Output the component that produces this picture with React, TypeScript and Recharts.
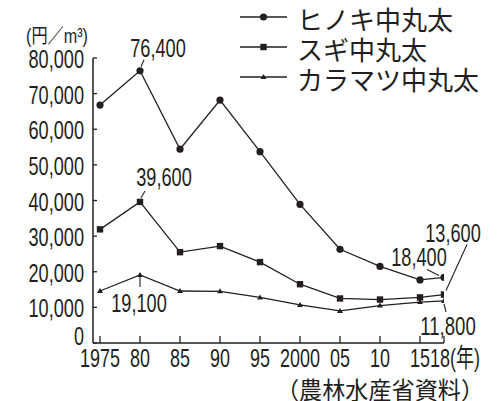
import React from 'react';
import { LineChart, Line, XAxis, YAxis, Legend, LabelList } from 'recharts';

const years = [1975, 1980, 1985, 1990, 1995, 2000, 2005, 2010, 2015, 2018];
const xTickLabels = ['1975', '80', '85', '90', '95', '2000', '05', '10', '15', '18'];
const hinoki = [66800, 76400, 54400, 68200, 53700, 38900, 26300, 21500, 17700, 18400];
const sugi = [31900, 39600, 25500, 27200, 22700, 16500, 12500, 12200, 12800, 13600];
const karamatsu = [14600, 19100, 14600, 14500, 12800, 10700, 9000, 10500, 11500, 11800];
const yTicks = [0, 10000, 20000, 30000, 40000, 50000, 60000, 70000, 80000];
const seriesNames = ['ヒノキ中丸太', 'スギ中丸太', 'カラマツ中丸太'];
const unitLabel = '(円／m³)';
const yearUnit = '(年)';
const sourceLabel = '（農林水産省資料）';

const data = years.map((y, i) => ({ year: y, hinoki: hinoki[i], sugi: sugi[i], karamatsu: karamatsu[i] }));

const INK = '#231f20';
const NUM_FONT = '"Liberation Sans Narrow", "Liberation Sans", Arial, "Noto Sans CJK JP", sans-serif';
const JP_FONT = '"Noto Sans CJK JP", "Noto Sans", sans-serif';

const fmt = (v: number) => v.toLocaleString('en-US');
const numWidth = (s: string) => [...s].reduce((a, c) => a + (c === ',' ? 5.5 : 10), 0);

const NumText = ({ x, y, text, anchor = 'middle' }: any) => (
  <text x={x} y={y} textAnchor={anchor} textLength={numWidth(text)} lengthAdjust="spacingAndGlyphs"
    fontSize={26} fontFamily={NUM_FONT} fill={INK}>{text}</text>
);

const YTick = (props: any) => {
  const { x, y, payload } = props;
  const v = payload.value;
  return (
    <g>
      <line x1={x} x2={x + 4} y1={y} y2={y} stroke={INK} strokeWidth={1.3} />
      <NumText x={x - 9} y={v === 0 ? y + 2 : y + 10} text={fmt(v)} anchor="end" />
    </g>
  );
};

const XTick = (props: any) => {
  const { x, y, payload } = props;
  const idx = years.indexOf(payload.value);
  const label = xTickLabels[idx];
  const last = idx === years.length - 1;
  return (
    <g>
      <line x1={x} x2={x} y1={y - 7} y2={y} stroke={INK} strokeWidth={1.3} />
      {last ? (
        <text x={x - 14} y={y + 24} fontSize={26} fontFamily={NUM_FONT} fill={INK}
          textLength={50} lengthAdjust="spacingAndGlyphs">{label + yearUnit}</text>
      ) : (
        <NumText x={x} y={y + 24} text={label} />
      )}
    </g>
  );
};

const markerFor = (key: string, cx: number, cy: number, k?: any) => {
  if (key === 'hinoki') return <circle key={k} cx={cx} cy={cy} r={3.6} fill={INK} />;
  if (key === 'sugi') return <rect key={k} x={cx - 3.2} y={cy - 3.2} width={6.4} height={6.4} fill={INK} />;
  return <path key={k} d={`M${cx - 3},${cy + 2} L${cx + 3},${cy + 2} L${cx},${cy - 3} Z`} fill={INK} />;
};

const makeDot = (key: string) => (p: any) => markerFor(key, p.cx, p.cy, `${key}-${p.index}`);

// annotation placement relative to the point (style only)
const annot: Record<string, Record<number, { tx: number; ty: number; l: number[] }>> = {
  hinoki: {
    1: { tx: 18, ty: -14, l: [1, -4, 4, -11] },
    9: { tx: -25, ty: -11, l: [-17, -8, -5, -2] },
  },
  sugi: {
    1: { tx: 24, ty: -16, l: [1, -4, 5, -11] },
    9: { tx: 9, ty: -53, l: [2, -4, 23, -50] },
  },
  karamatsu: {
    1: { tx: -1, ty: 37, l: [0, 1, 0, 12] },
    9: { tx: 4, ty: 34, l: [0, 3, 2, 11] },
  },
};

const makeLabel = (key: string) => (p: any) => {
  const a = annot[key][p.index];
  if (!a) return null;
  const x = Number(p.x), y = Number(p.y);
  return (
    <g key={`${key}-lab-${p.index}`}>
      <line x1={x + a.l[0]} y1={y + a.l[1]} x2={x + a.l[2]} y2={y + a.l[3]} stroke={INK} strokeWidth={1.1} />
      <NumText x={x + a.tx} y={y + a.ty} text={fmt(Number(p.value))} />
    </g>
  );
};

const keys = ['hinoki', 'sugi', 'karamatsu'];

const LegendContent = (props: any) => {
  const payload = [...(props.payload || [])].sort(
    (a: any, b: any) => keys.indexOf(String(a.dataKey)) - keys.indexOf(String(b.dataKey))
  );
  return (
    <svg width={497} height={100} style={{ position: 'absolute', left: 0, top: 0, overflow: 'visible' }}>
      {payload.map((item: any, i: number) => {
        const y = 17 + i * 30;
        return (
          <g key={i}>
            <line x1={240} x2={287} y1={y} y2={y} stroke={INK} strokeWidth={1.3} />
            {markerFor(String(item.dataKey), 263.5, y)}
            <text x={297} y={y + 1} dominantBaseline="central" fontSize={26} fontFamily={JP_FONT} fill={INK}>{item.value}</text>
          </g>
        );
      })}
    </svg>
  );
};

export default function App() {
  return (
    <div style={{ position: 'absolute', left: 0, top: 0, width: 497, height: 401, background: '#fff' }}>
      <LineChart width={497} height={401} data={data} margin={{ top: 58, right: 53, bottom: 28, left: 33 }}>
        <XAxis dataKey="year" type="number" domain={[1974.125, 2018]} ticks={years} interval={0}
          allowDataOverflow height={30} tickSize={0} tickMargin={0} tick={<XTick />}
          axisLine={{ stroke: INK, strokeWidth: 1.5 }} tickLine={false} />
        <YAxis type="number" domain={[0, 80000]} ticks={yTicks} interval={0} width={60}
          tickSize={0} tickMargin={0} tick={<YTick />} axisLine={{ stroke: INK, strokeWidth: 1.5 }} tickLine={false} />
        <Legend content={<LegendContent />} wrapperStyle={{ left: 0, top: 0, width: 0, height: 0 }} />
        {keys.map((k, i) => (
          <Line key={k} dataKey={k} name={seriesNames[i]} stroke={INK} strokeWidth={1.3} isAnimationActive={false}
            dot={makeDot(k)} activeDot={false}>
            <LabelList dataKey={k} content={makeLabel(k)} />
          </Line>
        ))}
        <text x={26} y={43} fontSize={20} fontFamily={NUM_FONT} fill={INK}
          textLength={62} lengthAdjust="spacingAndGlyphs">{unitLabel}</text>
        <text x={276} y={389} dominantBaseline="central" fontSize={23.5} textLength={208} lengthAdjust="spacingAndGlyphs"
          fontFamily={JP_FONT} fill={INK}>{sourceLabel}</text>
      </LineChart>
    </div>
  );
}
